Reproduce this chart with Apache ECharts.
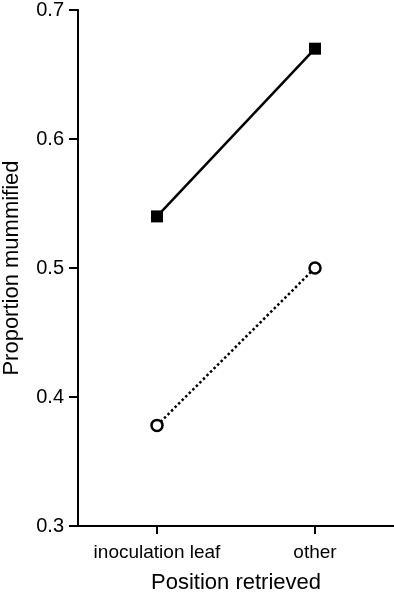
<!DOCTYPE html>
<html>
<head>
<meta charset="utf-8">
<script src="https://cdn.jsdelivr.net/npm/echarts@6/dist/echarts.min.js"></script>
<style>html,body{margin:0;padding:0;background:#fff}#c{width:394px;height:597px}</style>
</head>
<body>
<div id="c"></div>
<script>
var categories = ['inoculation leaf', 'other'];
var filledValues = [0.540, 0.670];
var openValues = [0.378, 0.500];
var yTicks = [0.3, 0.4, 0.5, 0.6, 0.7];

var chart = echarts.init(document.getElementById('c'));
var font = '"Liberation Sans", Arial, sans-serif';
chart.setOption({
  animation: false,
  grid: {left: 78, right: 0, top: 10, bottom: 71, outerBoundsMode: 'none', containLabel: false},
  xAxis: {
    type: 'category',
    data: categories,
    name: 'Position retrieved',
    nameLocation: 'middle',
    nameGap: 46,
    nameTextStyle: {fontFamily: font, fontSize: 22, color: '#000'},
    axisLine: {lineStyle: {color: '#000', width: 2}},
    axisTick: {show: true, alignWithLabel: true, interval: 0, length: 8, lineStyle: {color: '#000', width: 2}},
    axisLabel: {fontFamily: font, fontSize: 19, color: '#000', margin: 17, interval: 0, hideOverlap: false}
  },
  yAxis: {
    type: 'value',
    min: yTicks[0],
    max: yTicks[yTicks.length - 1],
    interval: 0.1,
    name: 'Proportion mummified',
    nameLocation: 'middle',
    nameGap: 55,
    nameTextStyle: {fontFamily: font, fontSize: 22, color: '#000'},
    axisLine: {show: true, lineStyle: {color: '#000', width: 2}},
    axisTick: {show: true, length: 9, lineStyle: {color: '#000', width: 2}},
    splitLine: {show: false},
    axisLabel: {fontFamily: font, fontSize: 20, color: '#000', margin: 14,
      formatter: function (v) { return v.toFixed(1); }}
  },
  series: [
    {
      type: 'line',
      data: filledValues,
      symbol: 'rect',
      symbolSize: 12,
      itemStyle: {color: '#000'},
      lineStyle: {color: '#000', width: 2.5, type: 'solid'},
      z: 3
    },
    {
      type: 'line',
      data: openValues,
      symbol: 'circle',
      symbolSize: 11,
      showAllSymbol: true,
      itemStyle: {color: '#fff', borderColor: '#000', borderWidth: 2.5},
      lineStyle: {color: '#000', width: 2.5, type: [2.5, 2.5]},
      z: 3
    }
  ]
});
</script>
</body>
</html>
